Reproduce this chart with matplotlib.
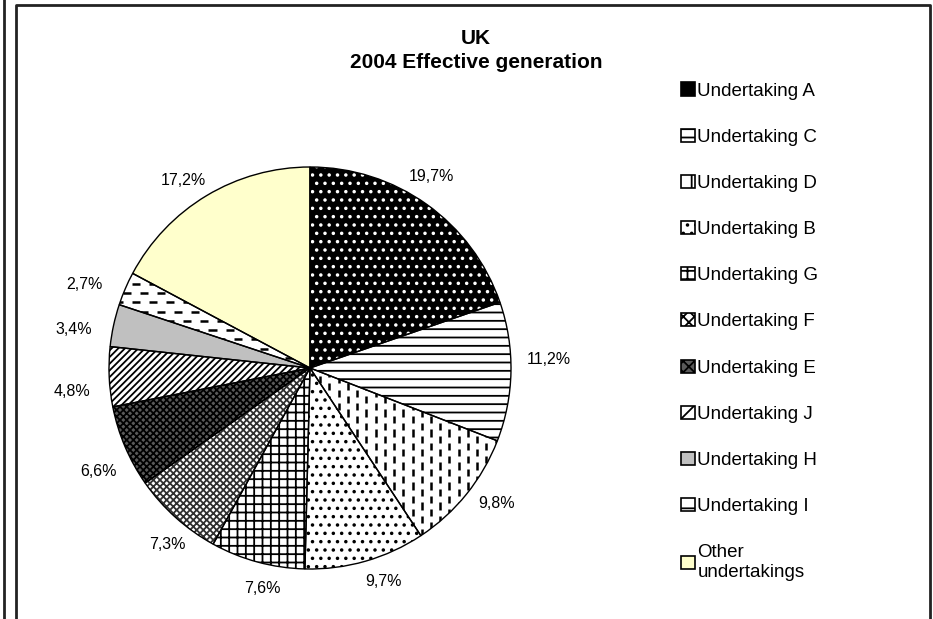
import matplotlib
matplotlib.use("Agg")
import matplotlib.pyplot as plt
import numpy as np
from matplotlib.collections import LineCollection
from matplotlib.lines import Line2D
from matplotlib.patches import Patch

plt.rcParams["font.family"] = ["Liberation Sans", "DejaVu Sans"]
plt.rcParams["hatch.linewidth"] = 1.3

TITLE = "UK"
SUBTITLE = "2004 Effective generation"
UNDERTAKINGS = ["Undertaking A", "Undertaking C", "Undertaking D", "Undertaking B",
                "Undertaking G", "Undertaking F", "Undertaking E", "Undertaking J",
                "Undertaking H", "Undertaking I", "Other\nundertakings"]
SHARES = [19.7, 11.2, 9.8, 9.7, 7.6, 7.3, 6.6, 4.8, 3.4, 2.7, 17.2]

# fill style of each slice: face colour, hatch, hatch colour
FACES = ["black", "white", "white", "white", "white", "white", "#5a5a5a",
         "white", "#c0c0c0", "white", "#ffffcc"]
HATCHES = ["..", "--", None, "..", "++", "xxxxx", "xxxxx", "/////", None, None, None]
HATCH_COLORS = ["white", "black", "black", "black", "black", "#303030", "black",
                "black", "black", "black", "black"]
LEGEND_HATCHES = ["", "--", "|", "..", "++", "xxx", "xxx", "//", "", "-", ""]


def dash_texture(ax, wedge, vertical, step, gap, length):
    """Short dashes on a staggered grid, clipped to one wedge."""
    segs = []
    for i, a in enumerate(np.arange(-1.1, 1.1, step)):
        shift = gap / 2 if i % 2 else 0.0
        for b in np.arange(-1.1 + shift, 1.1, gap):
            if vertical:
                segs.append([(a, b), (a, b + length)])
            else:
                segs.append([(b, a), (b + length, a)])
    lc = LineCollection(segs, colors="black", linewidths=1.8)
    ax.add_collection(lc)
    lc.set_clip_path(wedge)


fig = plt.figure(figsize=(9.33, 6.19), dpi=100)
ax = fig.add_axes([109 / 933, 50 / 619, 402 / 933, 402 / 619])

wedges, _ = ax.pie(SHARES, startangle=90, counterclock=False, radius=1,
                   colors=FACES, wedgeprops=dict(linewidth=0))
for w, h, hc in zip(wedges, HATCHES, HATCH_COLORS):
    w.set_edgecolor(hc)
    if h:
        w.set_hatch(h)

dash_texture(ax, wedges[2], True, 0.046, 0.066, 0.036)
dash_texture(ax, wedges[9], False, 0.046, 0.085, 0.04)

# outlines on top of the fills
ax.pie(SHARES, startangle=90, counterclock=False, radius=1,
       wedgeprops=dict(fill=False, edgecolor="black", linewidth=1.0))

# percentage labels just outside the rim; the text box (about 44x16 px)
# is pushed out along the (slightly turned) bisector until it clears the pie
px = 1 / 201
for w, v in zip(wedges, SHARES):
    theta = np.deg2rad((w.theta1 + w.theta2) / 2 + 3)
    c, s = abs(np.cos(theta)), abs(np.sin(theta))
    ext = min(22 / max(c, 1e-6), 8 / max(s, 1e-6))
    d = 1 + (16 + ext) * px
    ax.text(d * np.cos(theta), d * np.sin(theta), f"{v:.1f}%".replace(".", ","),
            ha="center", va="center", fontsize=11.5)

ax.set_xlim(-1, 1)
ax.set_ylim(-1, 1)
ax.set_aspect("equal")
ax.axis("off")

fig.text(476 / 933, 1 - 39 / 619, TITLE, ha="center", va="center",
         fontsize=15, fontweight="bold")
fig.text(476 / 933, 1 - 62 / 619, SUBTITLE, ha="center", va="center",
         fontsize=15, fontweight="bold")

handles = [Patch(facecolor=f, edgecolor="black", hatch=h, linewidth=1.2)
           for f, h in zip(FACES, LEGEND_HATCHES)]
fig.legend(handles, UNDERTAKINGS, loc="upper left",
           bbox_to_anchor=(672 / 933, 1 - 73 / 619), frameon=False,
           fontsize=13.5, handlelength=0.7, handleheight=0.7,
           handletextpad=0.15, labelspacing=1.55, borderpad=0)

# panel frame, and the edge of the neighbouring panel
fig.add_artist(Line2D([4 / 933, 4 / 933], [0, 1], transform=fig.transFigure,
                      color="#222222", linewidth=2))
fig.add_artist(Line2D([16 / 933, 16 / 933, 930 / 933, 930 / 933],
                      [0, 1 - 5 / 619, 1 - 5 / 619, 0],
                      transform=fig.transFigure, color="#222222", linewidth=2))

fig.savefig("out.png", dpi=100)
